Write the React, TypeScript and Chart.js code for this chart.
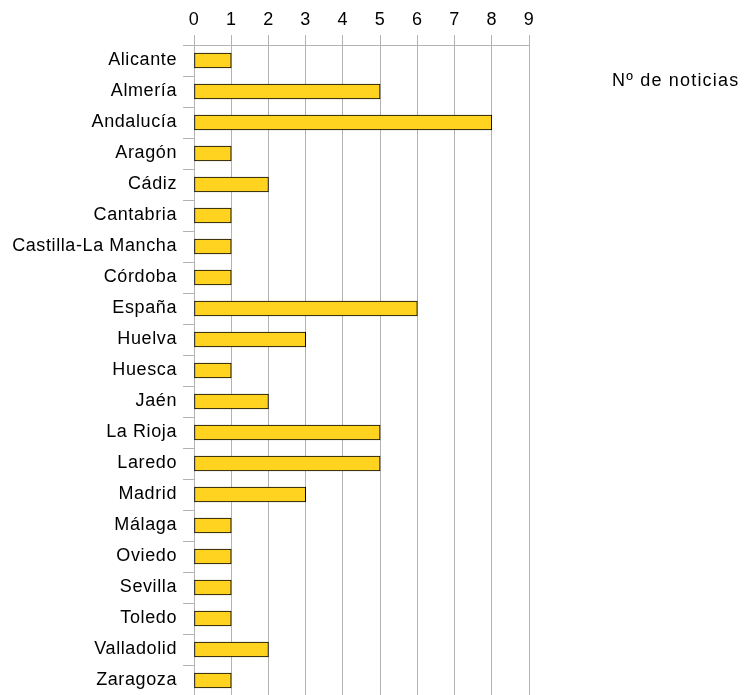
import React, { useEffect, useRef } from "react";
import { Chart, registerables } from "chart.js";

Chart.register(...registerables);

const categories = [
  "Alicante", "Almería", "Andalucía", "Aragón", "Cádiz", "Cantabria",
  "Castilla-La Mancha", "Córdoba", "España", "Huelva", "Huesca", "Jaén",
  "La Rioja", "Laredo", "Madrid", "Málaga", "Oviedo", "Sevilla", "Toledo",
  "Valladolid", "Zaragoza",
];
const noticias = [1, 5, 8, 1, 2, 1, 1, 1, 6, 3, 1, 2, 5, 5, 3, 1, 1, 1, 1, 2, 1];
const seriesLabel = "Nº de noticias";
const xTicks = [0, 1, 2, 3, 4, 5, 6, 7, 8, 9];

const FONT = "'Liberation Sans', Arial, sans-serif";

const spacing = {
  id: "spacing",
  beforeDraw(chart: any) {
    (chart.ctx as any).letterSpacing = "0.6px";
  },
  afterDraw(chart: any) {
    const ctx = chart.ctx;
    ctx.save();
    (ctx as any).letterSpacing = "1.2px";
    ctx.font = `18px ${FONT}`;
    ctx.fillStyle = "#000";
    ctx.textAlign = "left";
    ctx.textBaseline = "middle";
    ctx.fillText(seriesLabel, 612, 81);
    ctx.restore();
    (ctx as any).letterSpacing = "0px";
  },
};

export default function App() {
  const ref = useRef<HTMLCanvasElement>(null);
  useEffect(() => {
    if (!ref.current) return;
    const chart = new Chart(ref.current, {
      type: "bar",
      data: {
        labels: categories,
        datasets: [
          {
            label: seriesLabel,
            data: noticias,
            backgroundColor: "#ffd320",
            borderColor: "#000000",
            borderWidth: 1,
            borderSkipped: false,
            barThickness: 15,
            categoryPercentage: 1,
          },
        ],
      },
      options: {
        indexAxis: "y",
        animation: false,
        responsive: false,
        maintainAspectRatio: false,
        layout: { padding: { left: 0, right: 216, top: 0, bottom: 0 } },
        plugins: {
          legend: { display: false },
          tooltip: { enabled: false },
        },
        scales: {
          x: {
            position: "top",
            min: 0,
            max: 9,
            afterFit(scale: any) {
              scale.height = 45;
              scale.paddingLeft = 0;
              scale.paddingRight = 0;
            },
            afterBuildTicks(scale: any) {
              scale.ticks = xTicks.map((v) => ({ value: v }));
            },
            grid: {
              color: "#b3b3b3",
              lineWidth: 1,
              tickLength: 10,
              drawTicks: true,
            },
            border: { display: true, color: "#b3b3b3" },
            ticks: {
              color: "#000",
              font: { family: FONT, size: 18 },
              padding: 4,
            },
          },
          y: {
            afterFit(scale: any) {
              scale.width = 194;
              scale.paddingTop = 0;
              scale.paddingBottom = 0;
            },
            grid: {
              offset: true,
              drawOnChartArea: false,
              color: "#b3b3b3",
              tickLength: 11,
            },
            border: { display: false },
            ticks: {
              color: "#000",
              font: { family: FONT, size: 18 },
              padding: 6,
              autoSkip: false,
            },
          },
        },
      },
      plugins: [spacing],
    });
    return () => chart.destroy();
  }, []);
  return (
    <div style={{ position: "absolute", left: 0, top: 0, width: 745, height: 696 }}>
      <canvas ref={ref} width={745} height={696} style={{ width: 745, height: 696, display: "block" }} />
    </div>
  );
}
